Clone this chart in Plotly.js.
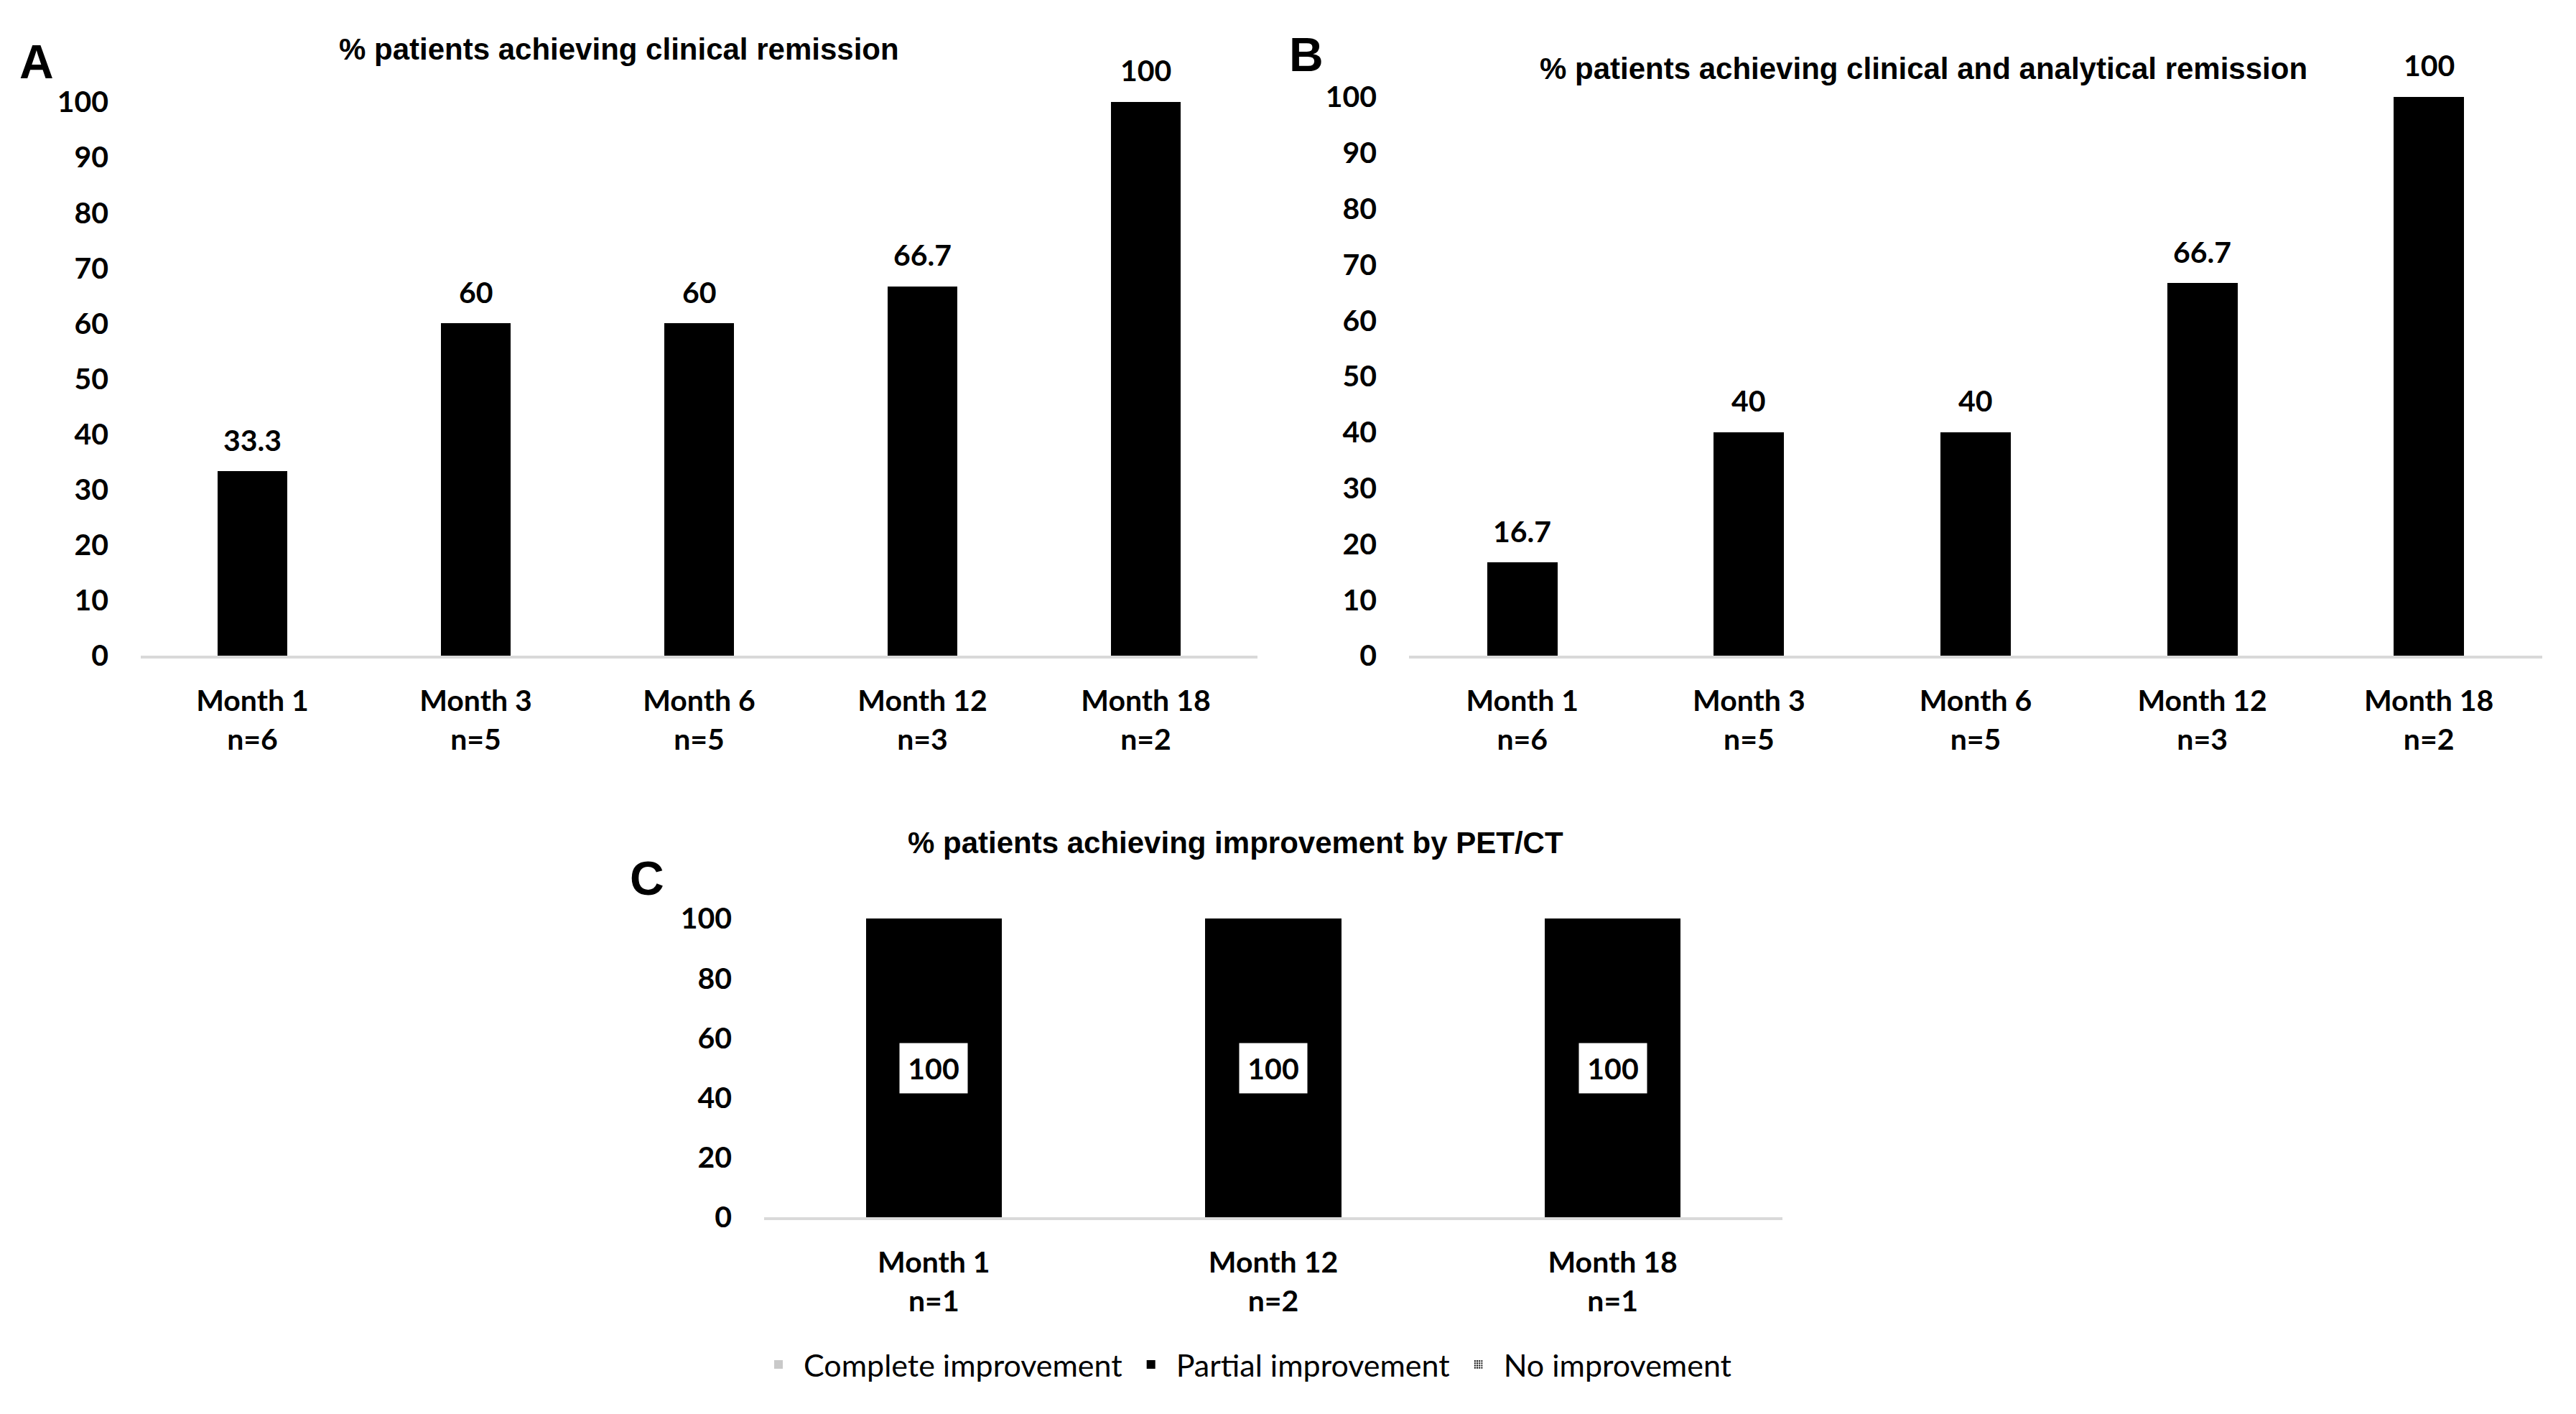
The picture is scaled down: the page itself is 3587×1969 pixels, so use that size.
<!DOCTYPE html>
<html>
<head>
<meta charset="utf-8">
<script src="https://cdn.plot.ly/plotly-3.0.1.min.js"></script>
<style>
  html, body { margin: 0; padding: 0; background: #fff; }
  #chart { width: 3587px; height: 1969px; }
</style>
</head>
<body>
<div id="chart"></div>
<script>
// --- data ---
const months = ['Month 1', 'Month 3', 'Month 6', 'Month 12', 'Month 18'];
const nPatients = [6, 5, 5, 3, 2];
const clinicalRemission = [33.3, 60, 60, 66.7, 100];
const clinAnalyticRemission = [16.7, 40, 40, 66.7, 100];

const petMonths = ['Month 1', 'Month 12', 'Month 18'];
const petN = [1, 2, 1];
const completeImp = [0, 0, 0];
const partialImp = [100, 100, 100];
const noImp = [0, 0, 0];

const ticksAB = [0, 10, 20, 30, 40, 50, 60, 70, 80, 90, 100];
const ticksC = [0, 20, 40, 60, 80, 100];

// category labels with n below
const catsAB = months.map((m, i) => `${m}<br>n=${nPatients[i]}`);
const catsC = petMonths.map((m, i) => `${m}<br>n=${petN[i]}`);

const W = 3587, H = 1969;
const px = v => v / W;
const py = v => 1 - v / H;

const tickFont = { family: 'Lato, sans-serif', size: 41, color: '#000', weight: 'bold' };
const titleFont = { family: '"Liberation Sans", Arial, sans-serif', size: 42, color: '#000', weight: 'bold' };
const letterFont = { family: '"Liberation Sans", Arial, sans-serif', size: 66, color: '#000', weight: 'bold' };

function barTrace(x, y, xa, ya) {
  return {
    type: 'bar', x, y, xaxis: xa, yaxis: ya, width: 0.31,
    marker: { color: '#000' }, showlegend: false, hoverinfo: 'skip'
  };
}

const data = [
  barTrace(catsAB, clinicalRemission, 'x', 'y'),
  barTrace(catsAB, clinAnalyticRemission, 'x2', 'y2'),
  {
    type: 'bar', name: 'Complete improvement', x: catsC, y: completeImp,
    xaxis: 'x3', yaxis: 'y3', width: 0.4, marker: { color: '#c9c9c9' }, hoverinfo: 'skip'
  },
  {
    type: 'bar', name: 'Partial improvement', x: catsC, y: partialImp,
    xaxis: 'x3', yaxis: 'y3', width: 0.4, marker: { color: '#000' }, hoverinfo: 'skip'
  },
  {
    type: 'bar', name: 'No improvement', x: catsC, y: noImp,
    xaxis: 'x3', yaxis: 'y3', width: 0.4,
    marker: { color: '#fff', pattern: { shape: '.', fgcolor: '#000', bgcolor: '#fff', size: 4, solidity: 0.4 } },
    hoverinfo: 'skip'
  }
];

// value labels above A / B bars
const annotations = [];
function valueLabels(x, y, xa, ya) {
  x.forEach((c, i) => annotations.push({
    xref: xa, yref: ya, x: c, y: y[i], text: String(y[i]),
    showarrow: false, yanchor: 'middle', yshift: 44, font: tickFont
  }));
}
valueLabels(catsAB, clinicalRemission, 'x', 'y');
valueLabels(catsAB, clinAnalyticRemission, 'x2', 'y2');

// boxed labels in the middle of the partial-improvement segments
catsC.forEach((c, i) => {
  if (partialImp[i] > 0) {
    annotations.push({
      xref: 'x3', yref: 'y3', x: c, y: completeImp[i] + partialImp[i] / 2,
      text: String(partialImp[i]), showarrow: false, bgcolor: '#fff',
      width: 86, height: 61, borderpad: 4, font: tickFont
    });
  }
});

// panel titles and letters
const paperText = (x, y, text, font) => ({
  xref: 'paper', yref: 'paper', x: px(x), y: py(y), text,
  showarrow: false, xanchor: 'center', yanchor: 'middle', font
});
annotations.push(
  paperText(862, 69, '% patients achieving clinical remission', titleFont),
  paperText(2678, 96, '% patients achieving clinical and analytical remission', titleFont),
  paperText(1720, 1173, '% patients achieving improvement by PET/CT', titleFont),
  paperText(51, 86, 'A', letterFont),
  paperText(1819, 76, 'B', letterFont),
  paperText(901, 1223, 'C', letterFont)
);

function xAxis(domain, anchor) {
  return {
    domain, anchor, type: 'category', showgrid: false, zeroline: false,
    showline: true, linecolor: '#d9d9d9', linewidth: 4,
    ticks: '', tickfont: tickFont, ticklabelstandoff: 24, fixedrange: true
  };
}
function yAxis(domain, tickvals, anchor) {
  return {
    domain, anchor, range: [0, 100], tickvals, showgrid: false, zeroline: false,
    showline: false, ticks: '', tickfont: tickFont, ticklabelstandoff: 44, fixedrange: true
  };
}

const layout = {
  width: W, height: H,
  margin: { l: 0, r: 0, t: 0, b: 0 },
  paper_bgcolor: '#fff', plot_bgcolor: '#fff',
  barmode: 'stack',
  xaxis: xAxis([px(196), px(1751)], 'y'),
  yaxis: yAxis([py(913), py(142)], ticksAB, 'x'),
  xaxis2: xAxis([px(1962), px(3540)], 'y2'),
  yaxis2: yAxis([py(913), py(135)], ticksAB, 'x2'),
  xaxis3: xAxis([px(1064), px(2482)], 'y3'),
  yaxis3: yAxis([py(1695), py(1279)], ticksC, 'x3'),
  showlegend: true,
  legend: {
    orientation: 'h', x: px(1733), xanchor: 'center', y: py(1900), yanchor: 'middle',
    traceorder: 'normal', font: { family: 'Lato, sans-serif', size: 43, color: '#000' },
    itemwidth: 60, bgcolor: 'rgba(0,0,0,0)'
  },
  annotations
};

Plotly.newPlot('chart', data, layout, { displayModeBar: false, staticPlot: true });
</script>
</body>
</html>
